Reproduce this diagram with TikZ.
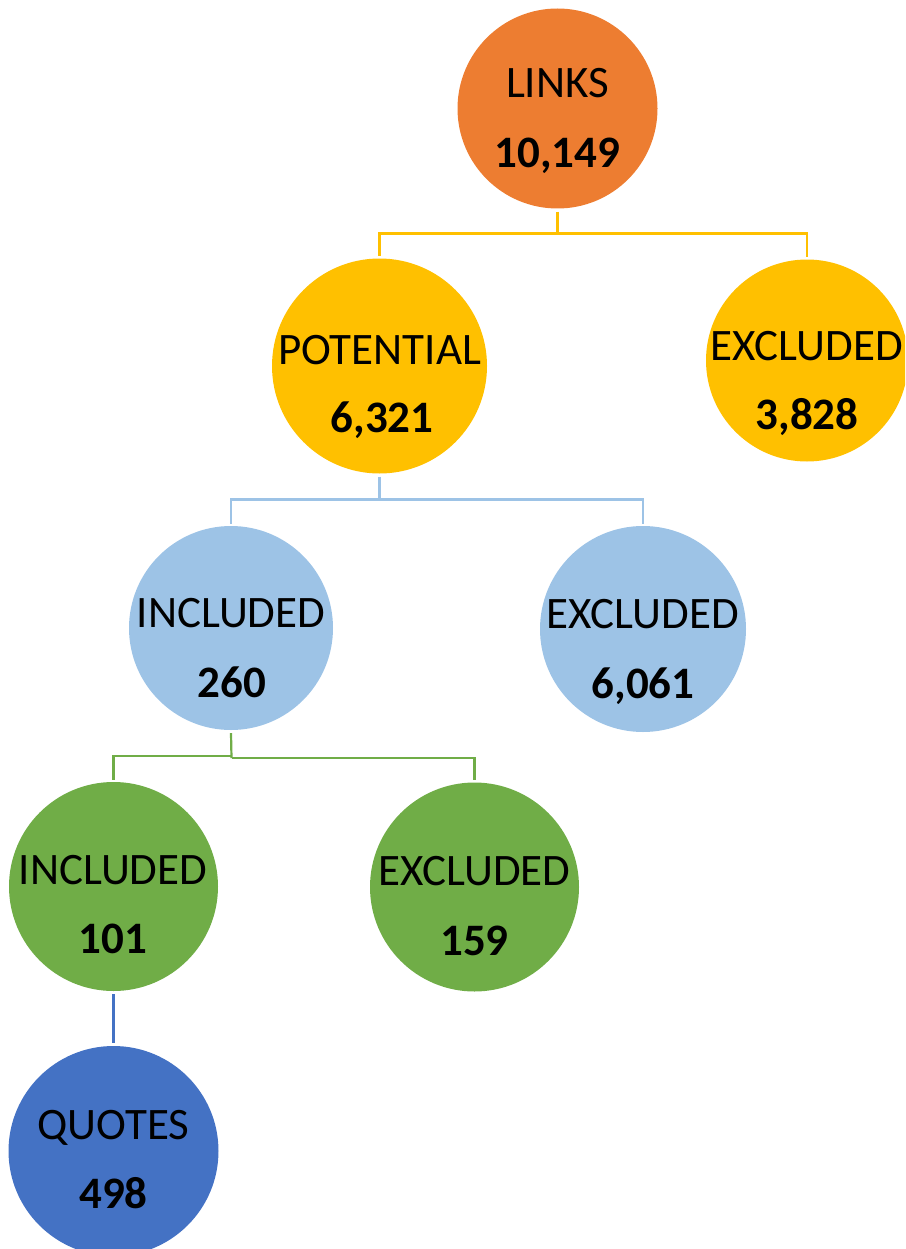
\documentclass[tikz,border=0pt]{standalone}
\usepackage{fontspec}
\setmainfont{Carlito}
\definecolor{corange}{HTML}{ED7D31}
\definecolor{cyellow}{HTML}{FFC000}
\definecolor{clblue}{HTML}{9DC3E6}
\definecolor{cgreen}{HTML}{70AD47}
\definecolor{cblue}{HTML}{4472C4}
\tikzset{
  bubble/.style={circle, inner sep=0pt, draw=none},
  lbl/.style={anchor=base, inner sep=0pt, font=\fontsize{45}{45}\selectfont},
  num/.style={anchor=base, inner sep=0pt, font=\fontsize{45}{45}\selectfont\bfseries},
  conn/.style={line width=2.2pt, line cap=butt, line join=miter},
}
\begin{document}
\begin{tikzpicture}[x=1pt,y=-1pt]
\useasboundingbox (0,0) rectangle (905,1249);
\begin{scope}
\clip (0,0) rectangle (905,1249);
% circles
\node[bubble, fill=corange, minimum size=200pt] (links) at (557.5,108.5) {};
\node[bubble, fill=cyellow, minimum size=215pt] (pot) at (379.5,366) {};
\node[bubble, fill=cyellow, minimum size=202pt] (excA) at (807,360.5) {};
\node[bubble, fill=clblue, minimum size=204pt] (incB) at (231,628) {};
\node[bubble, fill=clblue, minimum size=206pt] (excB) at (643,629) {};
\node[bubble, fill=cgreen, minimum size=209pt] (incC) at (113.5,886.5) {};
\node[bubble, fill=cgreen, minimum size=209pt] (excC) at (474.5,887) {};
\node[bubble, fill=cblue, minimum size=210pt] (quotes) at (113.5,1151) {};
\end{scope}
% texts
\node[lbl] (linksT) at (557.5,98) {LINKS};
\node[num] (linksN) at (557.5,168) {10,149};
\node[lbl] (potT) at (379.5,364) {POTENTIAL};
\node[num] (potN) at (382,432) {6,321};
\node[lbl] (excAT) at (807,360) {EXCLUDED};
\node[num] (excAN) at (807,429) {3,828};
\node[lbl] (incBT) at (231,627) {INCLUDED};
\node[num] (incBN) at (232,697) {260};
\node[lbl] (excBT) at (643,628) {EXCLUDED};
\node[num] (excBN) at (643,698) {6,061};
\node[lbl] (incCT) at (113,884) {INCLUDED};
\node[num] (incCN) at (113,953) {101};
\node[lbl] (excCT) at (474.5,885) {EXCLUDED};
\node[num] (excCN) at (474.5,955) {159};
\node[lbl] (quotesT) at (113.5,1139) {QUOTES};
\node[num] (quotesN) at (113.5,1208) {498};
% connectors
\coordinate (jA) at (557.5,233.5);
\draw[conn, cyellow] ([yshift=-3pt]links.south) -- (jA);
\draw[conn, cyellow] (jA) -| ([yshift=2pt]pot.north);
\draw[conn, cyellow] (jA) -| ([yshift=2pt]excA.north);
\coordinate (jB) at (379.5,499.5);
\draw[conn, clblue] ([yshift=-3pt]pot.south) -- (jB);
\draw[conn, clblue] (jB) -| ([yshift=2pt]incB.north);
\draw[conn, clblue] (jB) -| ([yshift=2pt]excB.north);
\coordinate (jC) at (231.5,756);
\coordinate (jD) at (231.5,758);
\draw[conn, cgreen] ([yshift=-3pt]incB.south) -- (jD);
\draw[conn, cgreen] (jC) -| ([yshift=2pt]incC.north);
\draw[conn, cgreen] (jD) -| ([yshift=2pt]excC.north);
\draw[conn, cblue] ([yshift=-3pt]incC.south) -- ([yshift=3pt]quotes.north);
\end{tikzpicture}
\end{document}
